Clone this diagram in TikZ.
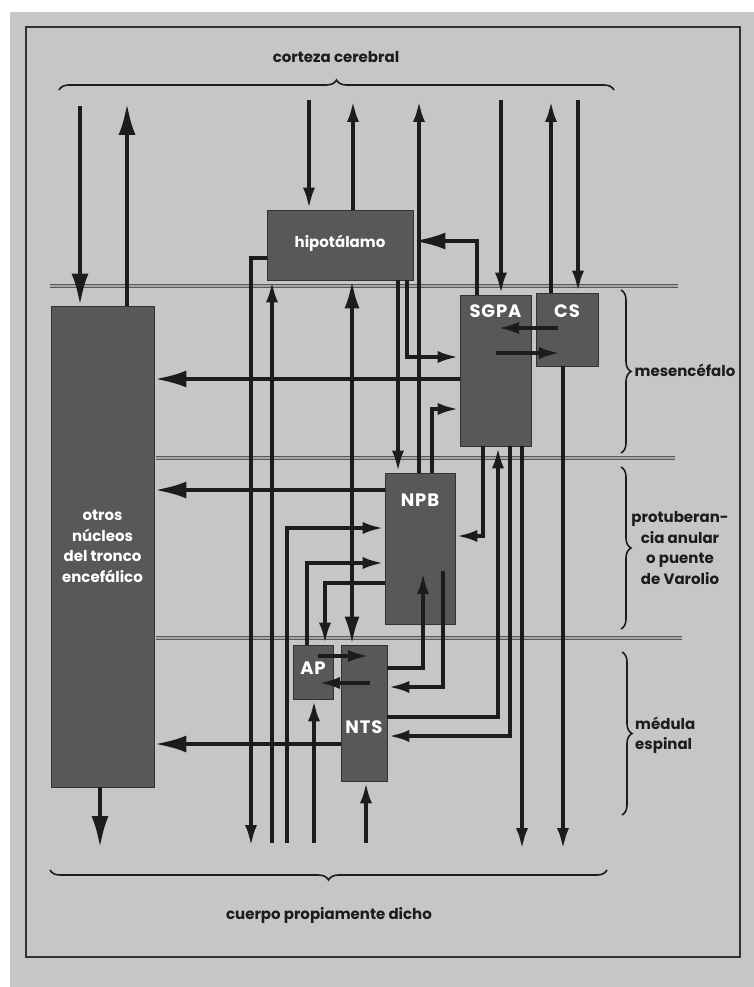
\documentclass[tikz,border=0pt]{standalone}
\usepackage{fontspec}
\setmainfont{Poppins}
\usetikzlibrary{arrows.meta,decorations.pathreplacing}
\definecolor{bggray}{HTML}{C6C6C6}
\definecolor{nucgray}{HTML}{585858}
\definecolor{ink}{HTML}{1C1C1C}
\begin{document}
\begin{tikzpicture}[
  x=1pt, y=-1pt,
  nuc/.style={draw=black!80, fill=nucgray, line width=0.8pt, inner sep=0pt},
  ntxt/.style={text=white, font=\fontsize{15}{20.5}\selectfont\bfseries, align=center, inner sep=1pt},
  ctxt/.style={text=white, font=\fontsize{18}{20}\selectfont\bfseries\addfontfeatures{LetterSpace=5}, inner sep=1pt},
  reg/.style={text=ink, font=\fontsize{15}{20.5}\selectfont\bfseries, align=center, inner sep=1pt},
  fl/.style={-{Latex[length=22pt,width=12pt]}, line width=4.2pt, draw=ink},
  flb/.style={-{Latex[length=32pt,width=17pt]}, line width=4.2pt, draw=ink},
  flbb/.style={{Latex[length=28pt,width=15pt]}-{Latex[length=28pt,width=15pt]}, line width=4.2pt, draw=ink},
  band/.style={draw=black!65, line width=1.3pt, double=black!35, double distance=2pt},
  brc/.style={draw=ink, decorate, decoration={brace, amplitude=10pt}, line width=1.6pt},
]
\useasboundingbox (0,0) rectangle (754,987);
\fill[white] (0,0) rectangle (754,987);
\fill[bggray] (10,12) rectangle (754,987);
\draw[black!80, line width=1.2pt] (26,27) rectangle (740,957);
\node[reg] (corteza) at (336,57) {corteza cerebral};
\node[reg] (cuerpo) at (329,915) {cuerpo propiamente dicho};
\draw[brc] (59,90) -- (614,90);
\draw[brc] (607,870) -- (50,870);
\draw[band] (50,286) -- (678,286);
\draw[band] (156,458) -- (675,458);
\draw[band] (156,638) -- (682,638);
\draw[brc] (621,290) -- (621,453);
\draw[brc] (621,467) -- (621,629);
\draw[brc] (622,652) -- (622,815);
\node[reg] (mes) at (685,370) {mesencéfalo};
\node[reg] (prot) at (680,548) {protuberan-\\cia anular\\o puente\\de Varolio};
\node[reg, align=left, anchor=west] (med) at (634,735) {médula\\espinal};
\node[nuc, minimum width=103pt, minimum height=481pt] (otros) at (102.5,546.5) {};
\node[nuc, minimum width=146pt, minimum height=70pt] (hipo) at (340,245) {};
\node[nuc, minimum width=71pt, minimum height=151pt] (sgpa) at (495.5,370.5) {};
\node[nuc, minimum width=62pt, minimum height=73pt] (cs) at (567,329.5) {};
\node[nuc, minimum width=70pt, minimum height=151pt] (npb) at (420,548.5) {};
\node[nuc, minimum width=40pt, minimum height=54pt] (ap) at (313,672) {};
\node[nuc, minimum width=46pt, minimum height=136pt] (nts) at (364,713) {};
\node[ntxt] (otrosT) at (otros) {otros\\núcleos\\del tronco\\encefálico};
\node[ntxt] (hipoT) at ([yshift=2pt]hipo.center) {hipotálamo};
\node[ctxt] (sgpaT) at ([yshift=-17pt]sgpa.north) {SGPA};
\node[ctxt] (csT) at ([yshift=-19pt]cs.north) {CS};
\node[ctxt] (npbT) at ([yshift=-28pt]npb.north) {NPB};
\node[ctxt] (apT) at ([yshift=4pt]ap.center) {AP};
\node[ctxt] (ntsT) at ([yshift=-14pt]nts.center) {NTS};
\coordinate (t1) at (80,106);
\coordinate (t2) at (127,103);
\coordinate (t3) at (309,100);
\coordinate (t4) at (353,100);
\coordinate (t5) at (419,100);
\coordinate (t6) at (501,100);
\coordinate (t7) at (551,100);
\coordinate (t8) at (578,100);
\coordinate (b1) at (100,848);
\coordinate (b2) at (251,847);
\coordinate (b3) at (272,843);
\coordinate (b4) at (287,843);
\coordinate (b5) at (314,843);
\coordinate (b6) at (366,843);
\coordinate (b7) at (522,850);
\coordinate (b8) at (563,850);
\draw[flb] (t1) -- (t1 |- otros.north);
\draw[flb] (t2 |- otros.north) -- (t2);
\draw[fl] (t3) -- (t3 |- hipo.north);
\draw[fl] (t4 |- hipo.north) -- (t4);
\draw[fl] (t5 |- npb.north) -- (t5);
\draw[fl] (t6) -- (t6 |- sgpa.north);
\draw[fl] (t7 |- cs.north) -- (t7);
\draw[fl] (t8) -- (t8 |- cs.north);
\draw[flb] (b1 |- otros.south) -- (b1);
\coordinate (k9) at (477,241);
\draw[flb] (k9 |- sgpa.north) -- (k9) -- (k9 -| hipo.east);
\coordinate (k10) at (251,258);
\draw[fl] (k10 -| hipo.west) -- (k10) -- (b2);
\draw[fl] (b3) -- (b3 |- hipo.south);
\coordinate (k12) at (352,0);
\draw[flbb] (k12 |- hipo.south) -- (k12 |- nts.north);
\coordinate (k13) at (398,0);
\draw[fl] (k13 |- hipo.south) -- (k13 |- npb.north);
\coordinate (k14) at (407,357);
\draw[fl] (k14 |- hipo.south) -- (k14) -- (k14 -| sgpa.west);
\coordinate (k15) at (0,379);
\draw[flb] (k15 -| sgpa.west) -- (k15 -| otros.east);
\coordinate (k16) at (432,409);
\draw[fl] (k16 |- npb.north) -- (k16) -- (k16 -| sgpa.west);
\coordinate (k17) at (0,490);
\draw[flb] (k17 -| npb.west) -- (k17 -| otros.east);
\coordinate (k18) at (287,528);
\draw[fl] (b4) -- (k18) -- (k18 -| npb.west);
\coordinate (k19) at (307,563);
\draw[fl] (k19 |- ap.north) -- (k19) -- (k19 -| npb.west);
\coordinate (k20) at (325,583);
\draw[fl] (k20 -| npb.west) -- (k20) -- (k20 |- ap.north);
\coordinate (k21) at (483,536);
\draw[fl] (k21 |- sgpa.south) -- (k21) -- (k21 -| npb.east);
\coordinate (k22) at (498,717);
\draw[fl] (k22 -| nts.east) -- (k22) -- (k22 |- sgpa.south);
\coordinate (k23) at (510,736);
\draw[fl] (k23 |- sgpa.south) -- (k23) -- (k23 -| nts.east);
\draw[fl] (b7 |- sgpa.south) -- (b7);
\draw[fl] (b8 |- cs.south) -- (b8);
\coordinate (k26) at (423,668);
\coordinate (k26t) at (423,572);
\draw[fl] (k26 -| nts.east) -- (k26) -- (k26t);
\coordinate (k27s) at (443,571);
\coordinate (k27) at (443,687);
\draw[fl] (k27s) -- (k27) -- (k27 -| nts.east);
\coordinate (k28a) at (318,656);
\coordinate (k28b) at (370,656);
\draw[fl] (k28a) -- (k28b);
\coordinate (k29a) at (370,683);
\coordinate (k29b) at (318,683);
\draw[fl] (k29a) -- (k29b);
\coordinate (k30a) at (558,328);
\coordinate (k30b) at (497,328);
\draw[fl] (k30a) -- (k30b);
\coordinate (k31a) at (496,353);
\coordinate (k31b) at (561,353);
\draw[fl] (k31a) -- (k31b);
\draw[fl] (b5) -- (b5 |- ap.south);
\draw[fl] (b6) -- (b6 |- nts.south);
\coordinate (k34) at (0,744);
\draw[flb] (k34 -| nts.west) -- (k34 -| otros.east);
\end{tikzpicture}
\end{document}
